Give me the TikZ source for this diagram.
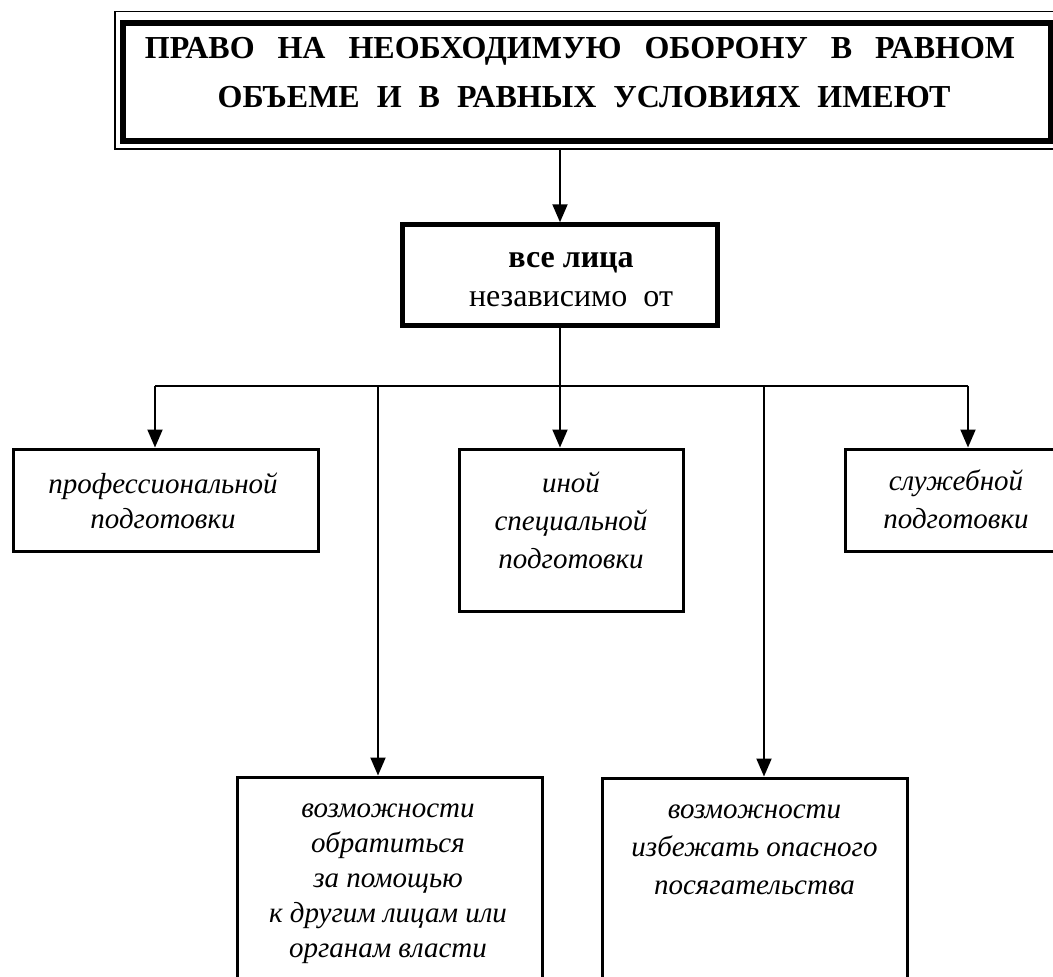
\documentclass[tikz,border=0pt]{standalone}
\usepackage{fontspec}
\setmainfont{Liberation Serif}
\usetikzlibrary{arrows.meta, positioning, calc}

\begin{document}
\begin{tikzpicture}[x=1pt, y=-1pt,
    frame/.style={draw, line width=3pt, inner sep=0pt},
    txt/.style={align=center, font=\fontsize{29}{35}\selectfont\itshape},
    wide/.style={font=\fontsize{29}{38}\selectfont\itshape},
    conn/.style={line width=2pt},
    arr/.style={-{Triangle[length=18pt, width=15pt]}, line width=2pt}]
  \useasboundingbox (0,0) rectangle (1053,977);
  \begin{scope}
    \clip (0,0) rectangle (1053,977);
    % heading
    \node[draw, line width=1.8pt, inner sep=0pt, minimum width=944pt,
      minimum height=137.5pt] (headframe) at (587,80.25) {};
    \node[draw, line width=6pt, inner sep=0pt, minimum width=928pt,
      minimum height=118.5pt] (head) at (586.5,81.75) {};
    \node[align=center, font=\fontsize{32}{49}\selectfont\bfseries]
      (headtxt) at (580,73)
      {ПРАВО\hspace{23pt}НА\hspace{23pt}НЕОБХОДИМУЮ\hspace{23pt}ОБОРОНУ\hspace{23pt}В\hspace{23pt}РАВНОМ\\
       \hspace*{8pt}ОБЪЕМЕ\hspace{17pt}И\hspace{17pt}В\hspace{17pt}РАВНЫХ\hspace{17pt}УСЛОВИЯХ\hspace{17pt}ИМЕЮТ};
    \node[draw, line width=5pt, inner sep=0pt, minimum width=314.5pt,
      minimum height=100.5pt] (all) at (560,275) {};
    \node[align=center, font=\fontsize{32}{39}\selectfont] (alltxt)
      at (571,280) {\textbf{все лица}\\независимо\ \ от};
    % second row
    \node[frame, minimum width=305pt, minimum height=102pt] (prof)
      at (165.5,500) {};
    \node[frame, minimum width=224pt, minimum height=162pt] (other)
      at (571,530) {};
    \node[frame, minimum width=222pt, minimum height=102pt] (serv)
      at (956,500) {};
    \node[txt] (proftxt) at (163,501) {профессиональной\\подготовки};
    \node[txt, wide] (othertxt) at (571,520) {иной\\специальной\\подготовки};
    \node[txt, wide] (servtxt) at (956,499) {служебной\\подготовки};
    % third row
    \node[frame, minimum width=305pt, minimum height=230pt, anchor=north]
      (help) at (389.5,775.5) {};
    \node[frame, minimum width=305pt, minimum height=230pt, anchor=north]
      (avoid) at (754.5,776.5) {};
    \node[txt] (helptxt) at (388,884)
      {возможности\\обратиться\\за помощью\\к другим лицам или\\органам власти};
    \node[txt, wide] (avoidtxt) at (754.5,850)
      {возможности\\избежать опасного\\посягательства};
    % connectors
    \draw[arr] (headframe.south -| all.north) -- (all.north);
    \coordinate (cprof) at (155,385.5);
    \coordinate (chelp) at (378,385.5);
    \coordinate (cavoid) at (764,385.5);
    \coordinate (cserv) at (968,385.5);
    \draw[conn] (cprof) -- (cserv);
    \draw[arr] (all.south) -- (all.south |- other.north);
    \foreach \n in {prof, help, avoid, serv}
      \draw[arr] (c\n) -- (c\n |- \n.north);
  \end{scope}
\end{tikzpicture}
\end{document}
